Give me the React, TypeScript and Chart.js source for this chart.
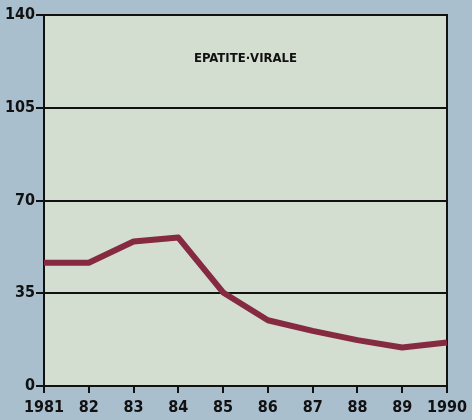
import React, { useEffect, useRef } from "react";
import { Chart, registerables } from "chart.js";

Chart.register(...registerables);

const years = ["1981", "82", "83", "84", "85", "86", "87", "88", "89", "1990"];
const cases = [46.5, 46.5, 54.5, 56, 35.3, 24.8, 20.8, 17.3, 14.5, 16.4];
const yTicks = [0, 35, 70, 105, 140];
const chartTitle = "EPATITE·VIRALE";

const BG = "#a9bfce";
const PLOT_BG = "#d3ddd0";
const LINE = "#852a40";
const FONT = "'Liberation Sans Narrow', 'DejaVu Sans Condensed', sans-serif";

export default function App() {
  const ref = useRef<HTMLCanvasElement>(null);
  useEffect(() => {
    document.body.style.margin = "0";
    const plotBg = {
      id: "plotBg",
      beforeDraw(chart: any) {
        const { ctx, chartArea: a } = chart;
        ctx.save();
        ctx.fillStyle = PLOT_BG;
        ctx.fillRect(a.left, a.top, a.right - a.left, a.bottom - a.top);
        ctx.restore();
      },
      afterDatasetsDraw(chart: any) {
        const { ctx, chartArea: a } = chart;
        ctx.save();
        ctx.fillStyle = "#111";
        ctx.font = `bold 13px ${FONT}`;
        ctx.textAlign = "center";
        ctx.textBaseline = "middle";
        ctx.fillText(chartTitle, (a.left + a.right) / 2, a.top + 44);
        ctx.restore();
      },
    };
    const chart = new Chart(ref.current!, {
      type: "line",
      data: {
        labels: years,
        datasets: [
          {
            data: cases,
            borderColor: LINE,
            borderWidth: 6,
            pointRadius: 0,
            tension: 0,
            borderJoinStyle: "round",
            borderCapStyle: "butt",
          },
        ],
      },
      options: {
        animation: false,
        responsive: false,
        layout: { padding: { top: 15, right: 24, left: 0, bottom: 0 } },
        plugins: { legend: { display: false }, tooltip: { enabled: false } },
        scales: {
          x: {
            offset: false,
            grid: {
              drawOnChartArea: false,
              drawTicks: true,
              tickLength: 7,
              color: "#111",
              lineWidth: 2,
            },
            border: { color: "#111", width: 2 },
            ticks: {
              color: "#111",
              font: { family: FONT, size: 16, weight: "bold" },
              padding: 5,
              maxRotation: 0,
              autoSkip: false,
            },
            afterFit(s: any) {
              s.height = 34;
            },
          },
          y: {
            min: 0,
            max: 140,
            afterBuildTicks(s: any) {
              s.ticks = yTicks.map((v) => ({ value: v }));
            },
            grid: {
              color: "#111",
              lineWidth: 2,
              tickLength: 8,
              drawTicks: true,
            },
            border: { color: "#111", width: 2 },
            ticks: {
              color: "#111",
              font: { family: FONT, size: 16, weight: "bold" },
              padding: 1,
            },
            afterFit(s: any) {
              s.width = 44;
            },
          },
          yR: {
            position: "right",
            min: 0,
            max: 140,
            grid: { display: false },
            ticks: { display: false },
            border: { display: true, color: "#111", width: 2 },
            afterFit(s: any) {
              s.width = 0;
            },
          },
        },
      },
      plugins: [plotBg],
    });
    return () => chart.destroy();
  }, []);
  return (
    <div style={{ width: 472, height: 420, background: BG }}>
      <canvas ref={ref} width={472} height={420} />
    </div>
  );
}
